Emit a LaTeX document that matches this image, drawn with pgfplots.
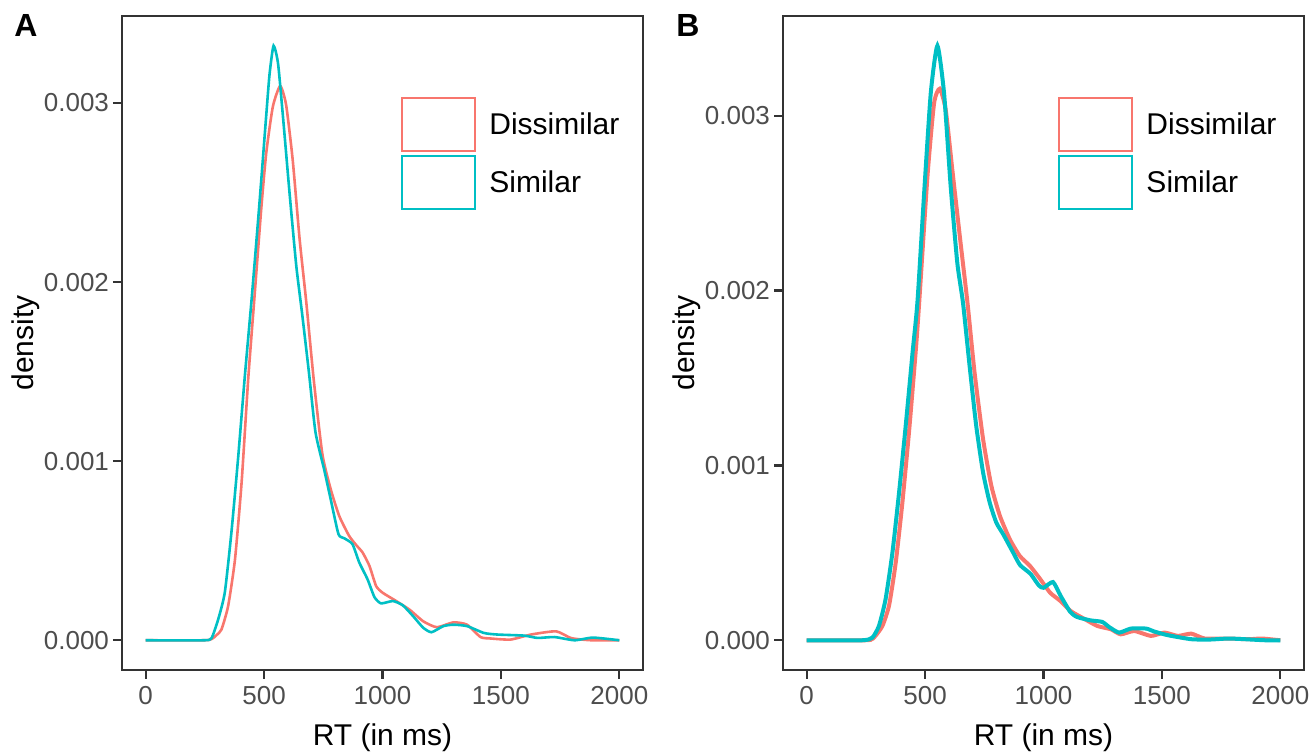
\documentclass[border=0pt]{standalone}
\usepackage{fontspec}
\setmainfont{Liberation Sans}
\usepackage{pgfplots}
\pgfplotsset{compat=1.18}

\definecolor{gred}{HTML}{F8766D}
\definecolor{gcyan}{HTML}{00BFC4}
\definecolor{frame}{HTML}{333333}
\definecolor{ticktxt}{HTML}{4D4D4D}

\pgfplotsset{
  dens/.style={
    scale only axis, width=260.5bp, height=327bp,
    anchor=south west,
    xmin=-100, xmax=2100,
    xtick={0,500,1000,1500,2000},
    ytick={0,0.001,0.002,0.003},
    scaled y ticks=false,
    yticklabel style={xshift=1.5bp, /pgf/number format/.cd, fixed, fixed zerofill, precision=3},
    xticklabel style={/pgf/number format/.cd, set thousands separator={}},
    /pgf/number format/assume math mode=true,
    xtick pos=bottom, ytick pos=left,
    tick align=outside, major tick length=4.5bp,
    tick style={frame, line width=1.1bp},
    axis line style={frame, line width=1.25bp},
    ticklabel style={font=\fontsize{13bp}{15bp}\selectfont, text=ticktxt},
    xlabel={RT (in ms)}, ylabel={density},
    every axis x label/.style={at={(axis description cs:0.5,-0.1147)}, anchor=base,
      font=\fontsize{15bp}{18bp}\selectfont},
    every axis y label/.style={at={(axis description cs:-0.185,0.5)}, rotate=90, anchor=center,
      font=\fontsize{15bp}{18bp}\selectfont},
    legend cell align=left,
    legend image code/.code={\draw[##1, line width=1bp] (0bp,-13.25bp) rectangle (36.5bp,13.25bp);},
    legend style={draw=none, fill=none, inner sep=0pt, row sep=1.5bp,
      font=\fontsize{15bp}{18bp}\selectfont,
      nodes={inner sep=0pt},
      /tikz/every odd column/.style={column sep=6.5bp}},
  }
}

\begin{document}
\begin{tikzpicture}
\useasboundingbox (0,0) rectangle (654.5bp,377bp);

% panel A
\begin{axis}[dens, at={(61bp,42bp)},
  ymin=-0.000166, ymax=0.003486,
  legend style={at={(0.5355,0.8761)}, anchor=north west}]
\addplot[gred, line width=1.3bp, smooth, tension=0.35] coordinates {
 (0,0) (245,0) (280,0.000008) (300,0.00003) (320,0.00006) (348,0.00019)
 (377,0.00045) (405,0.00088) (433,0.00146) (459,0.00191) (488,0.00241)
 (509,0.00272) (537,0.00298) (568,0.003095) (593,0.00299) (621,0.00268)
 (650,0.00224) (678,0.00189) (710,0.00145) (746,0.00104) (781,0.000845)
 (817,0.000695) (859,0.000583) (890,0.00053) (916,0.00049) (945,0.000415)
 (973,0.000303) (1001,0.000265) (1058,0.000219) (1115,0.00017) (1172,0.000106)
 (1229,0.000073) (1300,0.0001) (1357,0.000087) (1414,0.000018) (1456,0.00001)
 (1541,0.000004) (1627,0.000032) (1733,0.00005) (1797,0.000012) (1882,0) (2000,0)};
\addlegendentry{Dissimilar}
\addplot[gcyan, line width=1.3bp, smooth, tension=0.35] coordinates {
 (0,0) (245,0) (278,0.000012) (306,0.000116) (334,0.000266) (362,0.000602)
 (390,0.001013) (419,0.00148) (449,0.00193) (481,0.00245) (509,0.00293)
 (523,0.00316) (540,0.00332) (559,0.00322) (580,0.00292) (608,0.00249)
 (636,0.00209) (660,0.00183) (689,0.00150) (717,0.001162) (753,0.000957)
 (781,0.000789) (814,0.000593) (838,0.00057) (873,0.000537) (902,0.000434)
 (937,0.00034) (966,0.000241) (994,0.000206) (1044,0.000219) (1086,0.000195)
 (1129,0.000135) (1172,0.00007) (1207,0.000045) (1257,0.000079) (1300,0.000087)
 (1357,0.000079) (1428,0.000041) (1485,0.000032) (1598,0.000026) (1655,0.000013)
 (1726,0.000018) (1811,0) (1889,0.000015) (2000,0)};
\addlegendentry{Similar}
\end{axis}

% panel B
\begin{axis}[dens, at={(391.5bp,42bp)},
  ymin=-0.00017, ymax=0.00357,
  legend style={at={(0.528,0.8761)}, anchor=north west}]
\addplot[gred, line width=2bp, smooth, tension=0.35] coordinates {
 (0,0) (245,0) (280,0.00001) (319,0.00008) (348,0.0002) (376,0.000444)
 (404,0.000786) (433,0.001205) (461,0.001663) (475,0.00193) (510,0.002653)
 (538,0.003072) (562,0.003154) (587,0.003034) (615,0.00269) (650,0.00227)
 (679,0.00193) (709,0.00153) (745,0.001149) (780,0.000882) (816,0.000711)
 (858,0.000577) (900,0.000482) (943,0.000425) (986,0.00035) (1028,0.000272)
 (1071,0.000225) (1114,0.000168) (1170,0.000124) (1227,0.000082) (1284,0.000063)
 (1326,0.000034) (1383,0.000053) (1454,0.000025) (1511,0.000044) (1568,0.000025)
 (1624,0.000038) (1681,0.00001) (1780,0.00001) (1865,0.000006) (1922,0.00001) (2000,0)};
\addlegendentry{Dissimilar}
\addplot[gcyan, line width=2bp, smooth, tension=0.35] coordinates {
 (0,0) (234,0) (277,0.000015) (305,0.000082) (333,0.000234) (362,0.000501)
 (390,0.000844) (418,0.001225) (447,0.001644) (468,0.00194) (496,0.002558)
 (524,0.00313) (552,0.0034) (580,0.00313) (608,0.002596) (636,0.002158)
 (660,0.00193) (688,0.001568) (716,0.001225) (745,0.000958) (773,0.000787)
 (801,0.000672) (830,0.000606) (872,0.000501) (901,0.00043) (945,0.00038)
 (980,0.000314) (1000,0.0003) (1040,0.000333) (1071,0.000257) (1113,0.000162)
 (1142,0.000133) (1198,0.000114) (1248,0.000105) (1277,0.000076) (1319,0.000044)
 (1369,0.000067) (1433,0.000067) (1468,0.000050) (1525,0.000029) (1624,0.000006)
 (1700,0.000004) (1780,0.00001) (1851,0.000006) (1936,0) (2000,0)};
\addlegendentry{Similar}
\end{axis}

\node[font=\bfseries\fontsize{16bp}{18bp}\selectfont] at (13bp,364bp) {A};
\node[font=\bfseries\fontsize{16bp}{18bp}\selectfont] at (344bp,364bp) {B};
\end{tikzpicture}
\end{document}
